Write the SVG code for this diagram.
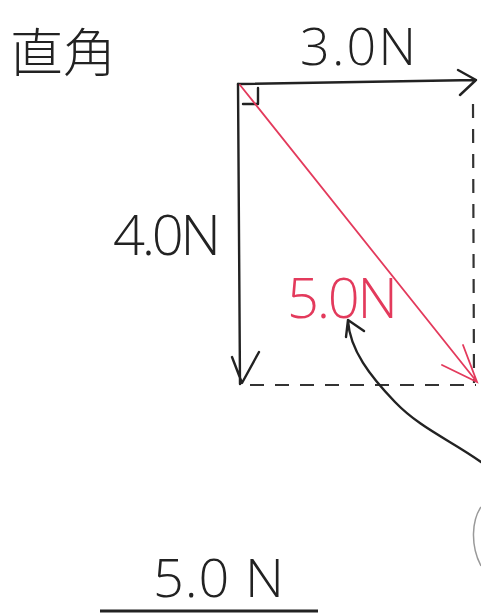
<svg xmlns="http://www.w3.org/2000/svg" width="481" height="614" viewBox="0 0 481 614">
<style>
.ink{fill:none;stroke:#222;stroke-width:2.4;stroke-linecap:round;stroke-linejoin:round}
.dash{fill:none;stroke:#333;stroke-width:2.2;stroke-dasharray:14 11}
.red{fill:none;stroke:#e33a5c;stroke-width:1.8;stroke-linecap:round}
.t{font-family:"Open Sans","Liberation Sans",sans-serif;font-weight:300;fill:#222}
.cjk{font-family:"Noto Sans CJK JP","Noto Sans CJK SC",sans-serif;fill:#222;font-weight:300}
</style>
<rect width="481" height="614" fill="#fff"/>
<g id="title"><text class="cjk" x="10" y="72" font-size="52" textLength="106" lengthAdjust="spacingAndGlyphs">直角</text></g>
<g id="label-3N"><text class="t" x="300" y="65" font-size="52" textLength="116" lengthAdjust="spacing">3.0N</text></g>
<g id="label-4N"><text class="t" x="113" y="255" font-size="56" textLength="108" lengthAdjust="spacing">4.0N</text></g>
<g id="label-5N-red"><text class="t" x="287" y="318" font-size="56" style="fill:#e33a5c" textLength="111" lengthAdjust="spacing">5.0N</text></g>
<g id="answer"><text class="t" x="153" y="597" font-size="54" textLength="131" lengthAdjust="spacing">5.0 N</text>
<line x1="100" y1="611" x2="318" y2="611" stroke="#222" stroke-width="3"/></g>
<g id="connectors">
<path class="ink" d="M238 84 L476 80 M458 70 L476 80 L460 95"/>
<path class="ink" d="M238 84 L240 384 M232 357 L242 383 L259 352"/>
<path class="ink" d="M243 104 L258 104 L258 88"/>
<line class="dash" x1="250" y1="385" x2="476" y2="385"/>
<line class="dash" x1="473" y1="104" x2="474" y2="383"/>
<path class="red" d="M240 85 L477 382 M442 365 L477 382 L463 345"/>
<path class="ink" d="M481 462 C450 440 420 428 395 402 C370 376 350 350 348 321 M346 337 L348 320 L364 331"/>
<path fill="none" stroke="#999" stroke-width="1.5" d="M481 507 C472 520 470 545 481 566"/>
</g>
</svg>
